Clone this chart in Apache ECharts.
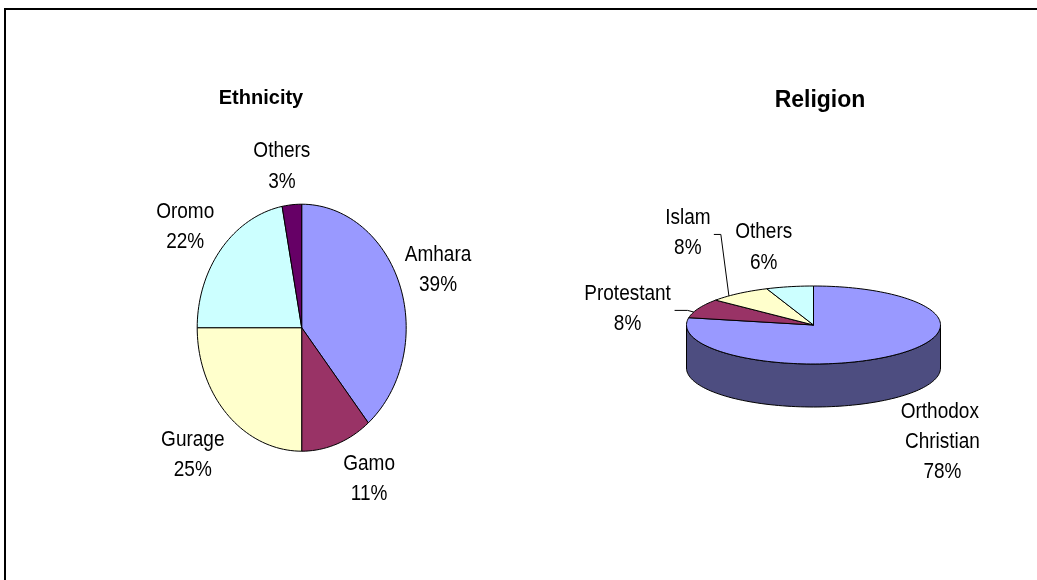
<!DOCTYPE html>
<html>
<head>
<meta charset="utf-8">
<title>Ethnicity and Religion</title>
<script src="https://cdn.jsdelivr.net/npm/echarts@6/dist/echarts.min.js"></script>
<style>
  html, body { margin: 0; padding: 0; background: #fff; }
  #chart { width: 1037px; height: 580px; }
</style>
</head>
<body>
<div id="chart"></div>
<script>
// data
const ethnicityNames = ["Amhara", "Gamo", "Gurage", "Oromo", "Others"];
const ethnicityValues = [39, 11, 25, 22, 3];
const religionNames = ["Orthodox Christian", "Protestant", "Islam", "Others"];
const religionValues = [78, 8, 8, 6];

// styles
const ethnicityColors = ["#9999ff", "#993366", "#ffffcc", "#ccffff", "#660066"];
const religionColors = ["#9999ff", "#993366", "#ffffcc", "#ccffff"];
const religionSideColors = ["#4d4d80", "#4d1a33", "#808066", "#668080"];
const FONT = "'Liberation Sans', Arial, sans-serif";

// label offsets from the rim point at each slice's middle angle
const ethnicityLabelShift = [[38, -16], [32, 35], [-35, 40], [-36, -22], [-10, -38]];
const religionLabelShift = [[48, 87], [-71, 1], [-51, -60], [-26, -39]];
// leader lines: [start dx, elbow dx] from label centre, null = none
const religionLeaders = [null, [47, 60], [26, 33], null];

function arcPoints(cx, cy, rx, ry, a0, a1, dy) {
  const pts = [];
  const n = Math.max(2, Math.ceil((a1 - a0) / 2));
  for (let k = 0; k <= n; k++) {
    const t = ((a0 + ((a1 - a0) * k) / n) * Math.PI) / 180;
    pts.push([cx + rx * Math.sin(t), cy - ry * Math.cos(t) + dy]);
  }
  return pts;
}

function rimPoint(p, a) {
  const t = (a * Math.PI) / 180;
  return [p.cx + p.rx * Math.sin(t), p.cy - p.ry * Math.cos(t)];
}

function makePie(p) {
  const total = p.values.reduce((s, v) => s + v, 0);
  const starts = [];
  let acc = 0;
  p.values.forEach((v) => {
    starts.push((acc / total) * 360);
    acc += v;
  });
  return {
    type: "custom",
    coordinateSystem: "none",
    data: p.values.map((v, i) => ({ name: p.names[i], value: v })),
    renderItem: function (params) {
      const i = params.dataIndex;
      const a0 = starts[i];
      const a1 = a0 + (p.values[i] / total) * 360;
      const children = [];

      // visible front wall of a 3d pie
      if (p.depth) {
        const s = Math.max(a0, 90);
        const e = Math.min(a1, 270);
        if (s < e) {
          const topArc = arcPoints(p.cx, p.cy, p.rx, p.ry, s, e, 0);
          const botArc = arcPoints(p.cx, p.cy, p.rx, p.ry, s, e, p.depth).reverse();
          children.push({
            type: "polygon",
            shape: { points: topArc.concat(botArc) },
            style: { fill: p.sideColors[i], stroke: "#000", lineWidth: 1 },
          });
        }
      }

      children.push({
        type: "polygon",
        shape: { points: [[p.cx, p.cy]].concat(arcPoints(p.cx, p.cy, p.rx, p.ry, a0, a1, 0)) },
        style: { fill: p.colors[i], stroke: "#000", lineWidth: 1 },
      });

      const mid = rimPoint(p, (a0 + a1) / 2);
      const lx = mid[0] + p.shift[i][0];
      const ly = mid[1] + p.shift[i][1];
      const pct = Math.round((p.values[i] / total) * 100);
      children.push({
        type: "text",
        originX: lx,
        originY: ly,
        scaleY: 1.12,
        style: {
          text: p.names[i] + "\n" + pct + "%",
          x: lx,
          y: ly,
          align: "center",
          verticalAlign: "middle",
          width: 92,
          overflow: "break",
          fontSize: 19,
          fontFamily: FONT,
          lineHeight: 27,
          fill: "#000",
        },
      });

      if (p.leaders && p.leaders[i]) {
        const end = rimPoint(p, a0 + (a1 - a0) * 0.3);
        children.push({
          type: "polyline",
          shape: {
            points: [
              [lx + p.leaders[i][0], ly + 1],
              [lx + p.leaders[i][1], ly + 1],
              end,
            ],
          },
          style: { stroke: "#000", lineWidth: 1, fill: null },
        });
      }
      return { type: "group", children: children };
    },
  };
}

const chart = echarts.init(document.getElementById("chart"));
chart.setOption({
  backgroundColor: "#fff",
  animation: false,
  title: [
    {
      text: "Ethnicity",
      left: 256,
      top: 83,
      textAlign: "center",
      textStyle: { fontSize: 20, fontWeight: "bold", fontFamily: FONT, color: "#000" },
    },
    {
      text: "Religion",
      left: 815,
      top: 84,
      textAlign: "center",
      textStyle: { fontSize: 23, fontWeight: "bold", fontFamily: FONT, color: "#000" },
    },
  ],
  graphic: [
    {
      type: "rect",
      silent: true,
      z: -1,
      shape: { x: 5, y: 9, width: 1200, height: 800 },
      style: { fill: "none", stroke: "#000", lineWidth: 2 },
    },
  ],
  series: [
    makePie({
      names: ethnicityNames,
      values: ethnicityValues,
      colors: ethnicityColors,
      shift: ethnicityLabelShift,
      cx: 301.7,
      cy: 327.7,
      rx: 104.5,
      ry: 123.5,
    }),
    makePie({
      names: religionNames,
      values: religionValues,
      colors: religionColors,
      sideColors: religionSideColors,
      shift: religionLabelShift,
      leaders: religionLeaders,
      cx: 813.5,
      cy: 325,
      rx: 127,
      ry: 39,
      depth: 43,
    }),
  ],
});
</script>
</body>
</html>
